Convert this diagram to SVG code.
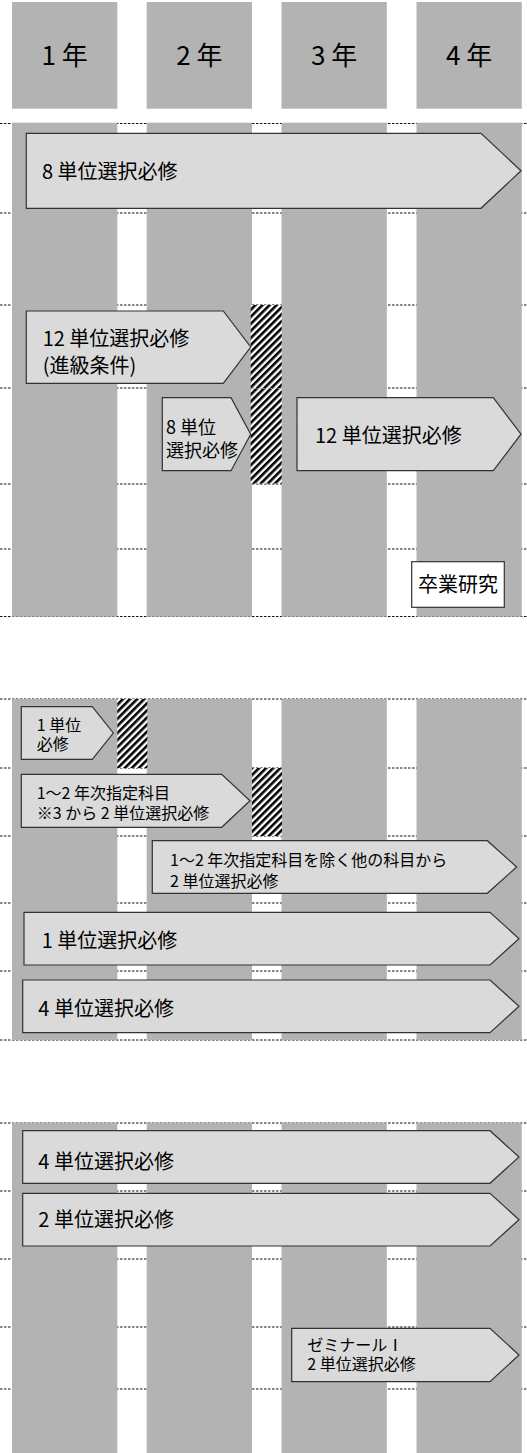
<svg xmlns="http://www.w3.org/2000/svg" width="527" height="1453" viewBox="0 0 527 1453">
<style>
.col{fill:#b3b3b3}
.dl{stroke:#111;stroke-width:1;stroke-dasharray:2.5 1.5;fill:none}
.arr{fill:#dadada;stroke:#333;stroke-width:1.2}
.t{font-family:"Noto Sans CJK JP","Noto Sans",sans-serif;font-weight:400;fill:#000}
.h{font-size:26px;text-anchor:middle}
.l{font-size:20px}
.m{font-size:18px}
.s{font-size:16px}
.hatch{fill:url(#hp)}
</style>
<defs>
<pattern id="hp" patternUnits="userSpaceOnUse" width="5" height="5" patternTransform="rotate(45)">
<rect x="0" y="0" width="5" height="5" fill="#fff"/>
<rect x="0" y="0" width="2.6" height="5" fill="#000"/>
</pattern>
</defs>

<g id="connectors">
<g id="lines1">
<line class="dl" x1="0" y1="123.5" x2="527" y2="123.5"/>
<line class="dl" x1="0" y1="213" x2="527" y2="213"/>
<line class="dl" x1="0" y1="305" x2="527" y2="305"/>
<line class="dl" x1="0" y1="388" x2="527" y2="388"/>
<line class="dl" x1="0" y1="484" x2="527" y2="484"/>
<line class="dl" x1="0" y1="549" x2="527" y2="549"/>
<line class="dl" x1="0" y1="616.5" x2="527" y2="616.5"/>
</g>
<g id="lines2">
<line class="dl" x1="0" y1="699" x2="527" y2="699"/>
<line class="dl" x1="0" y1="768" x2="527" y2="768"/>
<line class="dl" x1="0" y1="836" x2="527" y2="836"/>
<line class="dl" x1="0" y1="903" x2="527" y2="903"/>
<line class="dl" x1="0" y1="971" x2="527" y2="971"/>
<line class="dl" x1="0" y1="1040" x2="527" y2="1040"/>
</g>
<g id="lines3">
<line class="dl" x1="0" y1="1123" x2="527" y2="1123"/>
<line class="dl" x1="0" y1="1191" x2="527" y2="1191"/>
<line class="dl" x1="0" y1="1259" x2="527" y2="1259"/>
<line class="dl" x1="0" y1="1327" x2="527" y2="1327"/>
<line class="dl" x1="0" y1="1389" x2="527" y2="1389"/>
</g>
</g>

<g id="headers">
<g id="h1"><rect class="col" x="12" y="2" width="105.3" height="106.7"/><text class="t h" x="64.6" y="65.4">1 年</text></g>
<g id="h2"><rect class="col" x="146.7" y="2" width="105.3" height="106.7"/><text class="t h" x="199.3" y="65.4">2 年</text></g>
<g id="h3"><rect class="col" x="281.5" y="2" width="105.3" height="106.7"/><text class="t h" x="334.1" y="65.4">3 年</text></g>
<g id="h4"><rect class="col" x="416.5" y="2" width="105.3" height="106.7"/><text class="t h" x="469.1" y="65.4">4 年</text></g>
</g>

<g id="columns">
<rect class="col" x="12" y="122.7" width="105.3" height="494"/>
<rect class="col" x="146.7" y="122.7" width="105.3" height="494"/>
<rect class="col" x="281.5" y="122.7" width="105.3" height="494"/>
<rect class="col" x="416.5" y="122.7" width="105.3" height="494"/>
<rect class="col" x="12" y="699" width="105.3" height="341"/>
<rect class="col" x="146.7" y="699" width="105.3" height="341"/>
<rect class="col" x="281.5" y="699" width="105.3" height="341"/>
<rect class="col" x="416.5" y="699" width="105.3" height="341"/>
<rect class="col" x="12" y="1122.7" width="105.3" height="330.3"/>
<rect class="col" x="146.7" y="1122.7" width="105.3" height="330.3"/>
<rect class="col" x="281.5" y="1122.7" width="105.3" height="330.3"/>
<rect class="col" x="416.5" y="1122.7" width="105.3" height="330.3"/>
</g>

<g id="hatches">
<rect class="hatch" x="250.7" y="305" width="31" height="83"/>
<rect class="hatch" x="250.7" y="388.5" width="31" height="95"/>
<rect class="hatch" x="117.3" y="699" width="30" height="69"/>
<rect class="hatch" x="252" y="768" width="30" height="68"/>
</g>

<g id="n1">
<polygon class="arr" points="26.3,133.3 481,133.3 521,170.8 481,208.3 26.3,208.3"/>
<text class="t l" x="42" y="178.6">8 単位選択必修</text>
</g>
<g id="n2">
<polygon class="arr" points="26.3,311 223.3,311 250.7,347 223.3,383.3 26.3,383.3"/>
<text class="t l" x="42.7" y="346">12 単位選択必修</text>
<text class="t l" x="42.7" y="372.6">(進級条件)</text>
</g>
<g id="n3">
<polygon class="arr" points="162.3,397.7 231,397.7 250.7,434.2 231,470.7 162.3,470.7"/>
<text class="t m" x="166" y="433.5">8 単位</text>
<text class="t m" x="166" y="456.8">選択必修</text>
</g>
<g id="n4">
<polygon class="arr" points="297,397.7 493.3,397.7 521,434.2 493.3,470.7 297,470.7"/>
<text class="t l" x="315" y="442.6">12 単位選択必修</text>
</g>
<g id="n5">
<rect x="411.7" y="561.7" width="92.6" height="45.6" fill="#fff" stroke="#333" stroke-width="1.2"/>
<text class="t l" x="458" y="592.3" text-anchor="middle">卒業研究</text>
</g>

<g id="n6">
<polygon class="arr" points="21.3,706.7 92.3,706.7 113.3,733 92.3,759.3 21.3,759.3"/>
<text class="t s" x="36.7" y="730.5">1 単位</text>
<text class="t s" x="36.7" y="749.5">必修</text>
</g>
<g id="n7">
<polygon class="arr" points="21.3,774.3 221.7,774.3 250,800.8 221.7,827.3 21.3,827.3"/>
<text class="t s" x="36.7" y="798.5">1～2 年次指定科目</text>
<text class="t s" x="36.7" y="819.4">※3 から 2 単位選択必修</text>
</g>
<g id="n8">
<polygon class="arr" points="152.3,840.7 487.3,840.7 516.7,867 487.3,893.3 152.3,893.3"/>
<text class="t s" x="170" y="865.5">1～2 年次指定科目を除く他の科目から</text>
<text class="t s" x="170" y="886.5">2 単位選択必修</text>
</g>
<g id="n9">
<polygon class="arr" points="24,912.3 490,912.3 519,938.7 490,965 24,965"/>
<text class="t l" x="41.7" y="947.6">1 単位選択必修</text>
</g>
<g id="n10">
<polygon class="arr" points="22.7,980 490,980 519,1006.3 490,1032.7 22.7,1032.7"/>
<text class="t l" x="38.3" y="1016">4 単位選択必修</text>
</g>

<g id="n11">
<polygon class="arr" points="22.7,1130.7 490,1130.7 519,1157 490,1183.3 22.7,1183.3"/>
<text class="t l" x="38.3" y="1169.3">4 単位選択必修</text>
</g>
<g id="n12">
<polygon class="arr" points="22.7,1193.3 490,1193.3 519,1219.7 490,1246 22.7,1246"/>
<text class="t l" x="38.3" y="1227">2 単位選択必修</text>
</g>
<g id="n13">
<polygon class="arr" points="291.7,1328.3 490,1328.3 519,1355 490,1381.7 291.7,1381.7"/>
<text class="t s" x="307.3" y="1350.5">ゼミナールⅠ</text>
<text class="t s" x="307.3" y="1370">2 単位選択必修</text>
</g>
</svg>
